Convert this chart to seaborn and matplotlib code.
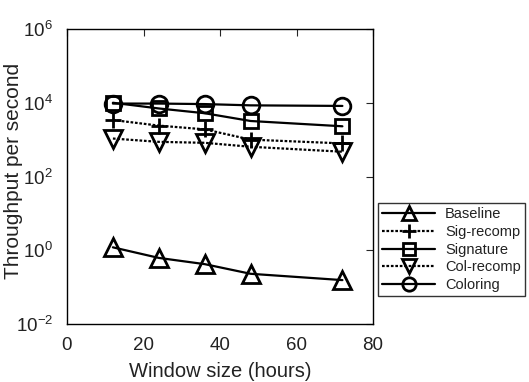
import matplotlib
matplotlib.use("Agg")
import matplotlib.pyplot as plt
import seaborn as sns
import pandas as pd

window_hours = [12, 24, 36, 48, 72]
series_names = ["Baseline", "Sig-recomp", "Signature", "Col-recomp", "Coloring"]
baseline = [1.2, 0.62, 0.42, 0.23, 0.155]
sig_recomp = [3400, 2400, 1900, 1000, 790]
signature = [10000, 7000, 5200, 3200, 2300]
col_recomp = [1070, 870, 820, 640, 470]
coloring = [9500, 9500, 9200, 8500, 8200]
values = [baseline, sig_recomp, signature, col_recomp, coloring]
y_ticks = [1e-2, 1e0, 1e2, 1e4, 1e6]
x_ticks = [0, 20, 40, 60, 80]

sns.set_style("white")
plt.rcParams['font.family'] = ['Liberation Sans', 'DejaVu Sans']
plt.rcParams['mathtext.fontset'] = 'custom'
plt.rcParams['mathtext.rm'] = 'Liberation Sans'
plt.rcParams['mathtext.it'] = 'Liberation Sans'
plt.rcParams['mathtext.default'] = 'regular'

fig = plt.figure(figsize=(5.29, 3.82), dpi=100)
ax = fig.add_axes([67/529, 58/382, 306/529, 295/382])

styles = {
    "Baseline": dict(marker="^", ms=13, ls="-"),
    "Sig-recomp": dict(marker="+", ms=12, ls=(0, (1.2, 0.8))),
    "Signature": dict(marker="s", ms=10, ls="-"),
    "Col-recomp": dict(marker="v", ms=13, ls=(0, (1.2, 0.8))),
    "Coloring": dict(marker="o", ms=12, ls="-"),
}

for name, vals in zip(series_names, values):
    df = pd.DataFrame({"x": window_hours, "y": vals})
    st = styles[name]
    sns.lineplot(data=df, x="x", y="y", ax=ax, color="black", linewidth=1.6,
                 linestyle=st["ls"], marker=st["marker"], markersize=st["ms"],
                 markerfacecolor="none", markeredgecolor="black",
                 markeredgewidth=2.0, label=name)

ax.set_yscale("log")
ax.set_xlim(0, 80)
ax.set_ylim(1e-2, 1e6)
ax.set_xticks(x_ticks)
ax.set_yticks(y_ticks)
ax.minorticks_off()
ax.tick_params(axis="both", which="major", direction="in", length=5, width=0.8,
               top=True, right=True, labelsize=13.5, labelcolor="#222222", pad=9)
ax.tick_params(axis="y", pad=10)
for s in ax.spines.values():
    s.set_color("black")
    s.set_linewidth(1.0)

ax.set_xlabel("Window size (hours)", fontsize=14.5, color="#222222", labelpad=6)
ax.set_ylabel("Throughput per second", fontsize=15, color="#222222")
ax.yaxis.set_label_coords(-0.145, 0.52)

leg = ax.legend(loc="upper left", bbox_to_anchor=(378/529, 1 - 203/382),
                bbox_transform=fig.transFigure, fontsize=10.5, frameon=True,
                fancybox=False, edgecolor="black", handlelength=3.6,
                handletextpad=0.7, borderpad=0.3, labelspacing=0.25,
                borderaxespad=0, markerscale=0.8)
leg.get_frame().set_linewidth(1.0)
for t in leg.get_texts():
    t.set_color("#222222")

fig.savefig("out.png", dpi=100)
